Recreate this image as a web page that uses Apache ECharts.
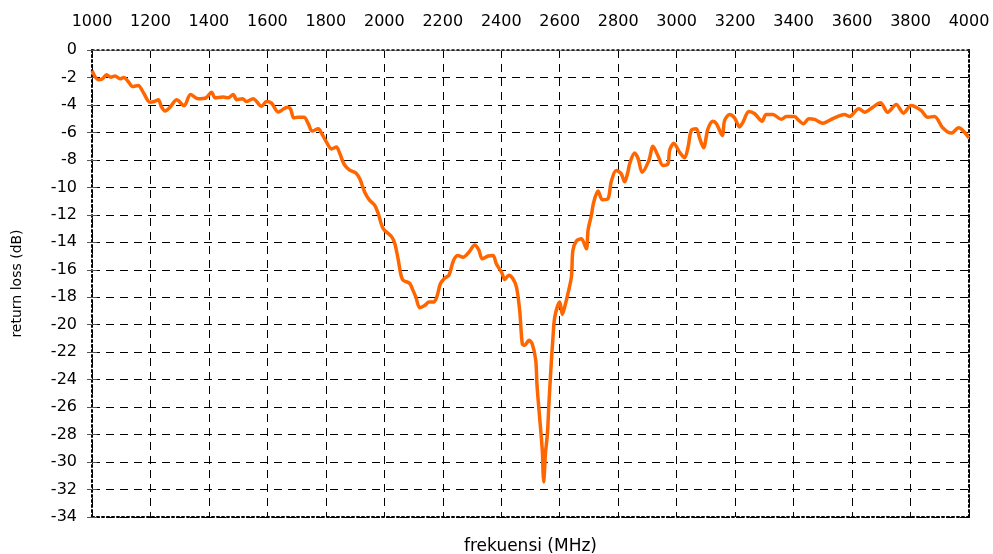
<!DOCTYPE html>
<html>
<head>
<meta charset="utf-8">
<script src="https://cdn.jsdelivr.net/npm/echarts@6/dist/echarts.min.js"></script>
<style>
  html, body { margin: 0; padding: 0; background: #fff; }
  #main { width: 993px; height: 554px; }
</style>
</head>
<body>
<div id="main"></div>
<script>
// frequency (MHz)
let freq = [1000, 1022, 1036, 1050, 1064, 1079, 1096, 1109, 1124, 1139, 1158, 1175, 1198, 1213, 1227, 1238, 1250, 1267, 1290, 1315,
  1337, 1363, 1390, 1409, 1421, 1449, 1466, 1483, 1495, 1515, 1529, 1551, 1580, 1597, 1614, 1637, 1648, 1668, 1679, 1690,
  1705, 1725, 1740, 1753, 1774, 1785, 1802, 1819, 1836, 1848, 1862, 1880, 1903, 1916, 1933, 1950, 1967, 1979, 1996, 2025,
  2036, 2047, 2062, 2087, 2098, 2108, 2121, 2138, 2153, 2169, 2180, 2192, 2207, 2221, 2237, 2252, 2269, 2290, 2309, 2323,
  2335, 2355, 2372, 2383, 2401, 2412, 2426, 2440, 2452, 2463, 2472, 2480, 2495, 2506, 2518, 2522, 2529, 2537, 2541, 2543,
  2545, 2548, 2551, 2558, 2563, 2571, 2577, 2583, 2600, 2609, 2617, 2628, 2640, 2645, 2657, 2674, 2691, 2697, 2708, 2716,
  2731, 2746, 2765, 2776, 2793, 2810, 2822, 2833, 2839, 2856, 2868, 2882, 2905, 2919, 2936, 2953, 2970, 2976, 2990, 3010,
  3027, 3039, 3050, 3067, 3079, 3092, 3107, 3124, 3136, 3156, 3164, 3181, 3198, 3215, 3227, 3247, 3267, 3292, 3306, 3329,
  3358, 3375, 3403, 3418, 3434, 3452, 3472, 3500, 3534, 3574, 3591, 3623, 3643, 3671, 3697, 3722, 3751, 3776, 3802, 3836,
  3859, 3882, 3910, 3939, 3965, 3979, 4000];

// return loss (dB)
let returnLoss = [-1.5, -2.17, -2.1, -1.8, -1.98, -1.9, -2.1, -2.0, -2.3, -2.66, -2.58, -3.07, -3.8, -3.75, -3.63, -4.16, -4.45, -4.16, -3.63, -4.06,
  -3.24, -3.55, -3.48, -3.07, -3.48, -3.43, -3.48, -3.24, -3.62, -3.55, -3.75, -3.55, -4.1, -3.75, -3.87, -4.52, -4.4, -4.16, -4.28, -4.94,
  -4.9, -4.9, -5.37, -5.9, -5.74, -6.05, -6.7, -7.2, -7.07, -7.56, -8.3, -8.72, -8.96, -9.38, -10.35, -10.95, -11.3, -11.9, -13.0, -13.6,
  -14.1, -15.2, -16.7, -17.0, -17.5, -18.0, -18.76, -18.6, -18.35, -18.35, -17.94, -17.0, -16.6, -16.4, -15.3, -14.96, -15.08, -14.7, -14.2, -14.55,
  -15.2, -15.0, -14.96, -15.56, -16.17, -16.7, -16.4, -16.65, -17.26, -18.96, -21.4, -21.5, -21.14, -21.4, -22.6, -24.3, -26.2, -28.2, -29.4, -30.8,
  -31.45, -30.6, -29.4, -27.9, -25.75, -22.8, -20.9, -19.45, -18.35, -19.25, -18.7, -17.74, -16.5, -14.6, -13.9, -13.74, -14.47, -13.1, -12.05, -11.1,
  -10.27, -10.9, -10.83, -9.6, -8.77, -9.0, -9.6, -8.9, -8.3, -7.5, -7.9, -8.9, -8.04, -7.0, -7.7, -8.4, -8.3, -7.3, -6.78, -7.44,
  -7.85, -7.07, -5.86, -5.74, -6.46, -7.12, -5.74, -5.18, -5.37, -6.22, -5.13, -4.7, -4.94, -5.6, -5.25, -4.48, -4.64, -5.18, -4.7, -4.7,
  -5.05, -4.84, -4.84, -5.13, -5.37, -5.0, -5.05, -5.33, -5.0, -4.7, -4.84, -4.28, -4.53, -4.16, -3.84, -4.53, -3.97, -4.6, -4.04, -4.4,
  -4.9, -4.84, -5.66, -6.05, -5.66, -5.86, -6.4];

// axis ranges / ticks
let xMin = 1000, xMax = 4000, xStep = 200;
let yMin = -34, yMax = 0, yStep = 2;

let myChart = echarts.init(document.getElementById('main'));

let points = freq.map((f, i) => [f, returnLoss[i]]);
let font = 'DejaVu Sans, sans-serif';

let dotted = { color: '#000', width: 2, type: [2, 3] };
let dashed = { color: '#000', width: 1, type: [8, 6] };

// frame-only axis (no labels / ticks)
function frameX(pos, line) {
  return {
    type: 'value', position: pos, min: xMin, max: xMax, interval: xStep,
    axisLine: { show: true, onZero: false, lineStyle: line },
    axisTick: { show: false }, axisLabel: { show: false }, splitLine: { show: false }
  };
}

let option = {
  animation: false,
  backgroundColor: '#fff',
  grid: {
    left: 92,
    right: 24,
    top: 50,
    bottom: 37,
    outerBoundsMode: 'none'
  },
  xAxis: [
    {
      type: 'value',
      position: 'top',
      offset: 2,
      min: xMin,
      max: xMax,
      interval: xStep,
      axisLine: { show: true, lineStyle: { color: '#999', width: 1 } },
      axisTick: { show: false },
      axisLabel: {
        color: '#000', fontSize: 16, fontFamily: font, margin: 18,
        formatter: v => String(v)
      },
      splitLine: { show: true, lineStyle: dashed }
    },
    frameX('top', { color: '#000', width: 1.5, type: [2, 3] }),
    Object.assign(frameX('bottom', dotted), {
      name: 'frekuensi (MHz)',
      nameLocation: 'middle',
      nameGap: 21,
      nameTextStyle: { color: '#000', fontSize: 17, fontFamily: font }
    })
  ],
  yAxis: [
    {
      type: 'value',
      position: 'left',
      min: yMin,
      max: yMax,
      interval: yStep,
      name: 'return loss (dB)',
      nameLocation: 'middle',
      nameGap: 68,
      nameTextStyle: { color: '#000', fontSize: 14, fontFamily: font },
      axisLine: { show: true, onZero: false, lineStyle: dotted },
      axisTick: { show: true, length: 5, lineStyle: { color: '#555' } },
      axisLabel: { color: '#000', fontSize: 16, fontFamily: font, margin: 15 },
      splitLine: { show: true, lineStyle: dashed }
    },
    {
      // inner half of the crossing ticks
      type: 'value',
      position: 'left',
      min: yMin,
      max: yMax,
      interval: yStep,
      axisLine: { show: false },
      axisTick: { show: true, inside: true, length: 5, lineStyle: { color: '#555' } },
      axisLabel: { show: false },
      splitLine: { show: false }
    },
    {
      // right frame
      type: 'value',
      position: 'right',
      min: yMin,
      max: yMax,
      interval: yStep,
      axisLine: { show: true, onZero: false, lineStyle: dotted },
      axisTick: { show: false },
      axisLabel: { show: false },
      splitLine: { show: false }
    }
  ],
  series: [
    {
      type: 'line',
      data: points,
      showSymbol: false,
      smooth: 0.3,
      lineStyle: { color: '#ff6600', width: 3.5 }
    }
  ]
};

myChart.setOption(option);
</script>
</body>
</html>
